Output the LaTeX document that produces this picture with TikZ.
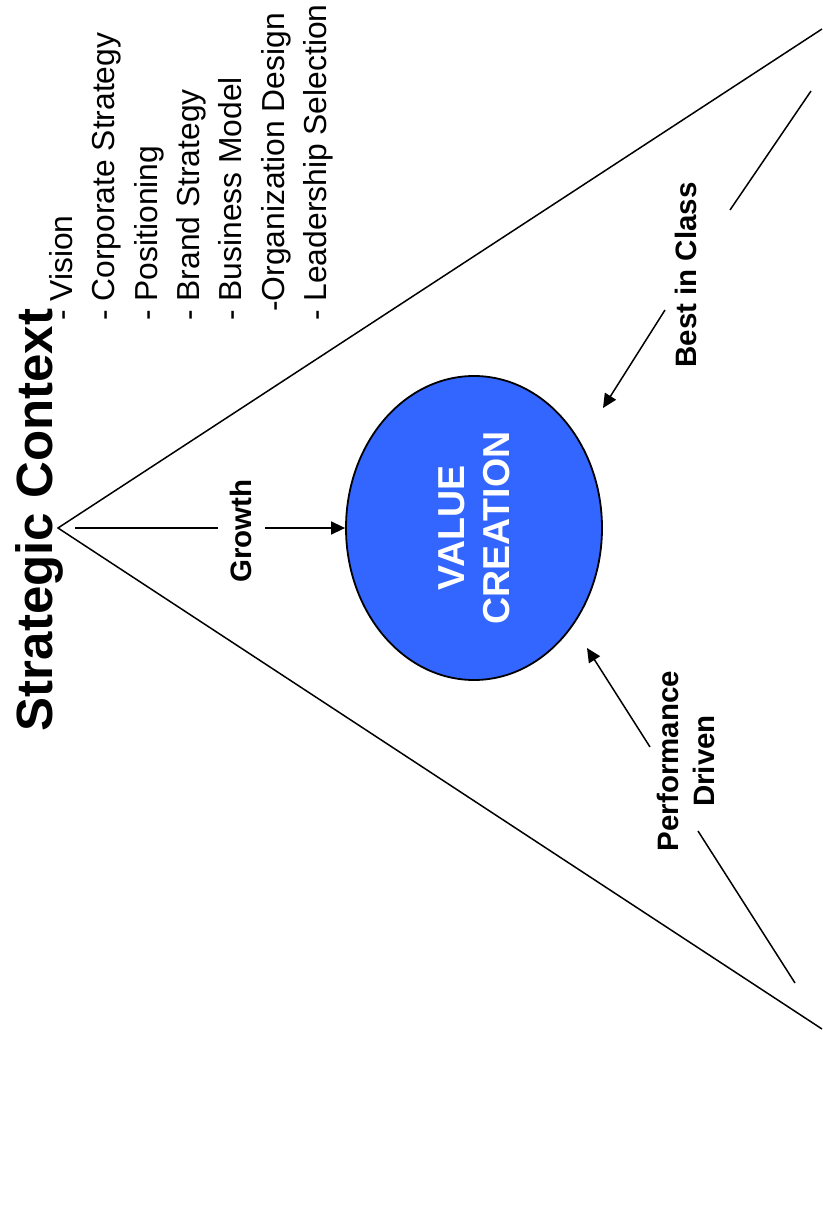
\documentclass[tikz,border=0pt]{standalone}
\usepackage{fontspec}
\setmainfont{Liberation Sans}
\usetikzlibrary{shapes.geometric,arrows.meta}
\definecolor{vcblue}{RGB}{51,102,255}
\begin{document}
\begin{tikzpicture}[x=1pt,y=-1pt,
  line/.style={line width=1.5pt},
  arr/.style={line width=1.5pt,-{Triangle[length=14pt,width=13pt]}},
  lbl/.style={rotate=90,font=\bfseries\fontsize{29.5}{36}\selectfont,inner sep=0pt,align=center},
  item/.style={rotate=90,anchor=base west,inner sep=0pt,font=\fontsize{31.8}{36}\selectfont},
  title/.style={rotate=90,anchor=base,inner sep=0pt,font=\bfseries\fontsize{51}{60}\selectfont},
]
\useasboundingbox (0,0) rectangle (822,1222);

% title and list
\node[title] (title) at (52,520) {Strategic Context};
\node[item] (i1) at (72,321) {- Vision};
\node[item] (i2) at (114,321) {- Corporate Strategy};
\node[item] (i3) at (157,321) {- Positioning};
\node[item] (i4) at (199,321) {- Brand Strategy};
\node[item] (i5) at (241,321) {- Business Model};
\node[item] (i6) at (284,312) {-Organization Design};
\node[item] (i7) at (326,321) {- Leadership Selection};

% funnel
\coordinate (apex) at (58,528);
\coordinate (topend) at (822,29);
\coordinate (botend) at (822,1029);
\draw[line] (topend) -- (apex) -- (botend);

% value creation
\node[ellipse, draw, line width=1.8pt, fill=vcblue, rotate=90,
      minimum width=304pt, minimum height=256pt, inner sep=0pt,
      text=white, font=\bfseries\fontsize{37.5}{45}\selectfont, align=center]
      (vc) at (474,528) {VALUE\\CREATION};

% growth
\node[lbl,anchor=base] (growth) at (251,531) {Growth};
\coordinate (g0) at (75,528);
\coordinate (g1) at (218,528);
\coordinate (g2) at (265,528);
\draw[line] (g0) -- (g1);
\draw[arr] (g2) -- (vc);

% best in class
\node[lbl,anchor=base] (best) at (696,275) {Best in Class};
\coordinate (b0) at (811,91);
\coordinate (b1) at (730,210);
\coordinate (b2) at (665,310);
\coordinate (b3) at (603,408);
\draw[line] (b0) -- (b1);
\draw[arr] (b2) -- (b3);

% performance driven
\node[lbl] (perf) at (686,761) {Performance\\Driven};
\coordinate (p0) at (795,983);
\coordinate (p1) at (698,831);
\coordinate (p2) at (650,747);
\coordinate (p3) at (587,648);
\draw[line] (p0) -- (p1);
\draw[arr] (p2) -- (p3);
\end{tikzpicture}
\end{document}
